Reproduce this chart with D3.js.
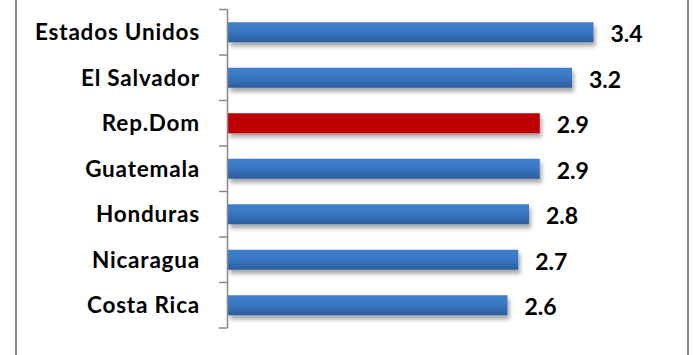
<!DOCTYPE html>
<html><head><meta charset="utf-8">
<script src="https://cdn.jsdelivr.net/npm/d3@7"></script>
<style>body{margin:0;background:#fff}svg{display:block}</style>
</head><body>
<script>
const categories = ["Estados Unidos","El Salvador","Rep.Dom","Guatemala","Honduras","Nicaragua","Costa Rica"];
const values = [3.4, 3.2, 2.9, 2.9, 2.8, 2.7, 2.6];
const highlight = ["Rep.Dom"];
const valueLabels = ["3.4","3.2","2.9","2.9","2.8","2.7","2.6"];

const W = 693, H = 355;
const svg = d3.select("body").append("svg").attr("width", W).attr("height", H);
const defs = svg.append("defs");
const g1 = defs.append("linearGradient").attr("id","blueGrad").attr("x1",0).attr("y1",0).attr("x2",0).attr("y2",1);
g1.append("stop").attr("offset","0%").attr("stop-color","#3f80cf");
g1.append("stop").attr("offset","45%").attr("stop-color","#3a78c4");
g1.append("stop").attr("offset","100%").attr("stop-color","#2c5d9c");
const f = defs.append("filter").attr("id","shadow").attr("x","-5%").attr("y","-50%").attr("width","115%").attr("height","250%");
f.append("feGaussianBlur").attr("in","SourceAlpha").attr("stdDeviation",2.2).attr("result","b");
f.append("feOffset").attr("in","b").attr("dx",1.5).attr("dy",3.5).attr("result","o");
f.append("feComponentTransfer").attr("in","o").attr("result","s").append("feFuncA").attr("type","linear").attr("slope",0.35);
const m = f.append("feMerge"); m.append("feMergeNode").attr("in","s"); m.append("feMergeNode").attr("in","SourceGraphic");

// frame borders
svg.append("line").attr("x1",16).attr("x2",16).attr("y1",0).attr("y2",H).attr("stroke","#888").attr("stroke-width",2);
svg.append("line").attr("x1",688).attr("x2",688).attr("y1",0).attr("y2",H).attr("stroke","#888").attr("stroke-width",2);

const x0 = 228;
const x = d3.scaleLinear().domain([0, 1]).range([x0, x0 + 107.5]);
const y = d3.scaleBand().domain(categories).range([9.5, 328]).paddingInner(0.56).paddingOuter(0.28);
const yTicks = d3.scaleBand().domain(categories).range([9.5, 328]);

// bars
svg.selectAll("rect.bar").data(categories).enter().append("rect")
  .attr("class","bar")
  .attr("x", x(0))
  .attr("y", d => y(d))
  .attr("height", y.bandwidth())
  .attr("width", (d,i) => x(values[i]) - x(0))
  .attr("fill", d => highlight.includes(d) ? "#c00000" : "url(#blueGrad)")
  .attr("filter","url(#shadow)");

// axis
const ax = svg.append("g");
ax.append("line").attr("x1",x0-0.5).attr("x2",x0-0.5).attr("y1",9.5).attr("y2",328).attr("stroke","#888").attr("stroke-width",1.5);
const tickPos = categories.map(c => yTicks(c)).concat([328]);
ax.selectAll("line.tk").data(tickPos).enter().append("line")
  .attr("x1",x0-9).attr("x2",x0-0.5).attr("y1",d=>d).attr("y2",d=>d)
  .attr("stroke","#888").attr("stroke-width",1.5);

const font = "Lato, 'Open Sans', sans-serif";
svg.selectAll("text.cat").data(categories).enter().append("text")
  .attr("x", 200).attr("y", d => yTicks(d) + yTicks.bandwidth()/2)
  .attr("dy","0.36em").attr("text-anchor","end")
  .attr("font-family", font).attr("font-weight","bold").attr("font-size",22.5)
  .attr("letter-spacing", 0.8).attr("fill","#000")
  .text(d => d);

svg.selectAll("text.val").data(categories).enter().append("text")
  .attr("x", (d,i) => x(values[i]) + 17)
  .attr("y", d => yTicks(d) + yTicks.bandwidth()/2 + 1.5)
  .attr("dy","0.36em")
  .attr("font-family", font).attr("font-weight","bold").attr("font-size",23).attr("fill","#000")
  .text((d,i) => valueLabels[i]);
</script>
</body></html>
